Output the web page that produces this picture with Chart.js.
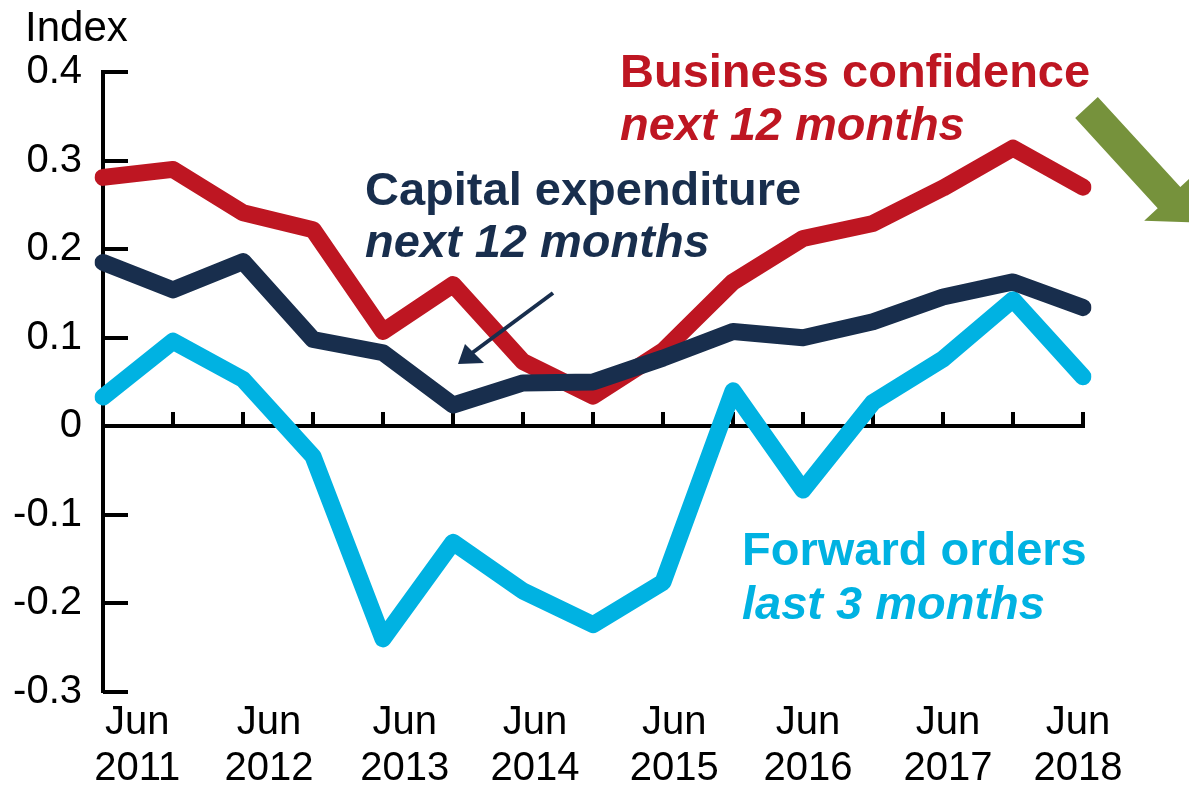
<!DOCTYPE html>
<html>
<head>
<meta charset="utf-8">
<script src="https://cdn.jsdelivr.net/npm/chart.js@4.4.1/dist/chart.umd.min.js"></script>
<style>
  html, body { margin: 0; padding: 0; background: #fff; }
  #wrap { width: 1189px; height: 785px; position: relative; }
</style>
</head>
<body>
<div id="wrap"><canvas id="chart"></canvas></div>
<script>
// half-yearly observations
const periods = ["Jun 2011", "Dec 2011", "Jun 2012", "Dec 2012", "Jun 2013", "Dec 2013", "Jun 2014", "Dec 2014",
                 "Jun 2015", "Dec 2015", "Jun 2016", "Dec 2016", "Jun 2017", "Dec 2017", "Jun 2018"];
const businessConfidence = [0.281, 0.290, 0.241, 0.222, 0.107, 0.160, 0.073, 0.034, 0.085, 0.163, 0.212, 0.229, 0.269, 0.314, 0.270];
const capitalExpenditure = [0.185, 0.154, 0.186, 0.098, 0.083, 0.024, 0.049, 0.050, 0.077, 0.107, 0.100, 0.118, 0.146, 0.163, 0.134];
const forwardOrders      = [0.033, 0.096, 0.053, -0.034, -0.240, -0.131, -0.186, -0.224, -0.176, 0.040, -0.072, 0.027, 0.076, 0.143, 0.056];
const yearLabels = ["2011", "2012", "2013", "2014", "2015", "2016", "2017", "2018"];

const RED = "#BE1622";
const NAVY = "#182E4D";
const CYAN = "#00B2E2";
const GREEN = "#76923C";
const FONT = '"Liberation Sans", Arial, sans-serif';

Chart.defaults.font.family = FONT;
Chart.defaults.color = "#000";

// where the year labels sit along the index axis (as in the original)
const labelAt = [0.49, 2.37, 4.31, 6.17, 8.16, 10.07, 12.07, 13.93];

const notes = {
  id: "notes",
  afterDraw(chart) {
    const ctx = chart.ctx;
    ctx.save();
    ctx.textAlign = "left";
    ctx.textBaseline = "alphabetic";
    ctx.fillStyle = "#000";
    ctx.font = "42px " + FONT;
    ctx.fillText("Index", 25, 41);

    const txt = (s, x, y, c, italic) => {
      ctx.font = (italic ? "italic " : "") + "bold 47px " + FONT;
      ctx.fillStyle = c;
      ctx.fillText(s, x, y);
    };
    txt("Business confidence", 620, 87, RED);
    txt("next 12 months", 620, 140, RED, true);
    txt("Capital expenditure", 365, 205, NAVY);
    txt("next 12 months", 365, 257, NAVY, true);
    txt("Forward orders", 742, 565, CYAN);
    txt("last 3 months", 742, 619, CYAN, true);

    // thin navy pointer
    ctx.strokeStyle = NAVY;
    ctx.fillStyle = NAVY;
    ctx.lineWidth = 4;
    ctx.beginPath();
    ctx.moveTo(553, 293);
    ctx.lineTo(472, 353);
    ctx.stroke();
    ctx.beginPath();
    ctx.moveTo(458, 364);
    ctx.lineTo(465, 344);
    ctx.lineTo(484, 363);
    ctx.closePath();
    ctx.fill();

    // big green arrow, runs off the right edge
    const S = [1086.5, 107.5], B = [1169, 197.6];
    const d = [0.68, 0.73], n = [0.73, -0.68];
    const p = (o, a, k) => [o[0] + a[0] * k, o[1] + a[1] * k];
    const pts = [p(S, n, -15.5), p(B, n, -15.5), p(B, n, -34), p(B, d, 34), p(B, n, 34), p(B, n, 15.5), p(S, n, 15.5)];
    ctx.fillStyle = GREEN;
    ctx.beginPath();
    pts.forEach((q, i) => i ? ctx.lineTo(q[0], q[1]) : ctx.moveTo(q[0], q[1]));
    ctx.closePath();
    ctx.fill();
    ctx.restore();
  }
};

const lineStyle = {
  borderWidth: 17,
  pointRadius: 0,
  tension: 0,
  borderCapStyle: "round",
  borderJoinStyle: "round",
  fill: false
};

new Chart(document.getElementById("chart"), {
  type: "line",
  data: {
    labels: periods,
    datasets: [
      { label: "Capital expenditure", data: capitalExpenditure, borderColor: NAVY, order: 0, ...lineStyle },
      { label: "Business confidence", data: businessConfidence, borderColor: RED, order: 1, ...lineStyle },
      { label: "Forward orders", data: forwardOrders, borderColor: CYAN, order: 2, ...lineStyle }
    ]
  },
  options: {
    responsive: true,
    maintainAspectRatio: false,
    animation: false,
    layout: { padding: { left: 0, right: 106, top: 72, bottom: 0 } },
    plugins: { legend: { display: false }, tooltip: { enabled: false } },
    scales: {
      x: {
        type: "category",
        position: { y: 0 },
        ticks: { display: false },
        grid: { drawOnChartArea: false, drawTicks: true, tickLength: -16, color: "#000", lineWidth: 4 },
        border: { display: true, color: "#000", width: 4 }
      },
      xl: {
        type: "linear",
        position: "bottom",
        min: 0,
        max: 14,
        afterBuildTicks: (s) => { s.ticks = labelAt.map(v => ({ value: v })); },
        afterFit: (s) => { s.height = 93; },
        ticks: {
          autoSkip: false,
          maxRotation: 0,
          padding: 8,
          font: { size: 40, lineHeight: 1.15 },
          color: "#000",
          callback: (v, i) => ["Jun", yearLabels[i]]
        },
        grid: { display: false, drawTicks: false },
        border: { display: false }
      },
      y: {
        min: -0.3,
        max: 0.4,
        afterFit: (s) => { s.width = 103; },
        ticks: {
          stepSize: 0.1,
          padding: 21,
          font: { size: 40 },
          color: "#000",
          callback: (v) => String(Math.round(v * 10) / 10)
        },
        grid: { display: false, drawTicks: false },
        border: { display: true, color: "#000", width: 4 }
      },
      yt: {
        type: "linear",
        position: { x: 0 },
        min: -0.3,
        max: 0.4,
        ticks: { display: false, stepSize: 0.1 },
        grid: { drawOnChartArea: false, drawTicks: true, tickLength: -25, color: "#000", lineWidth: 4 },
        border: { display: false }
      }
    }
  },
  plugins: [notes]
});
</script>
</body>
</html>
